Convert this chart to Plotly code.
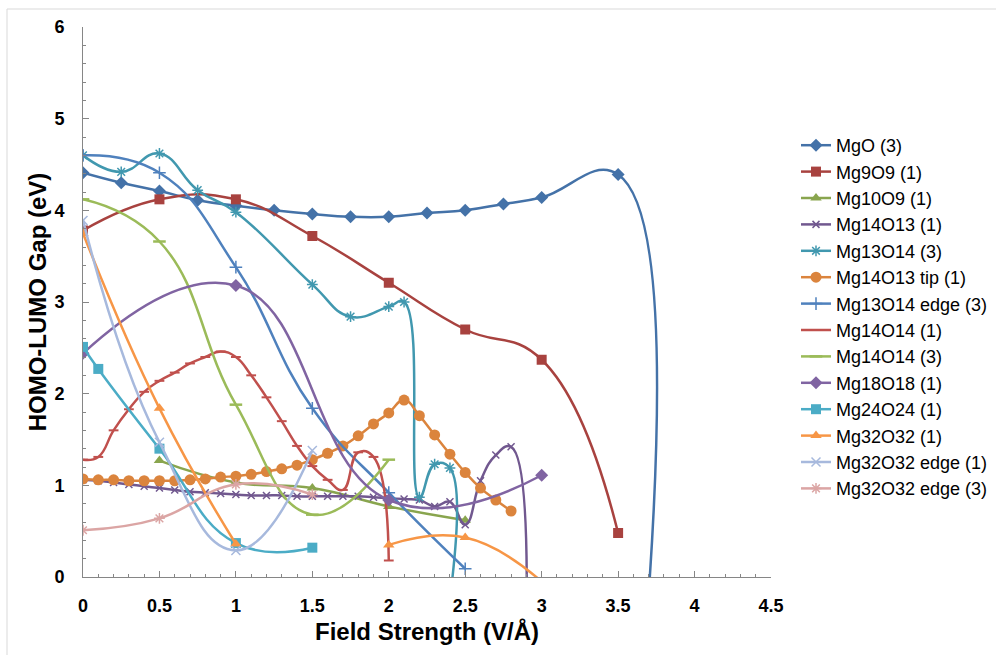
import plotly.graph_objects as go

# ---------------- data ----------------
mgo_x = [0, 0.25, 0.5, 0.75, 1.0, 1.25, 1.5, 1.75, 2.0, 2.25, 2.5, 2.75, 3.0, 3.5, 3.705]
mgo_y = [4.41, 4.30, 4.21, 4.11, 4.05, 4.00, 3.96, 3.93, 3.93, 3.97, 4.00, 4.07, 4.14, 4.39, -0.06]

mg9o9_x = [0, 0.5, 1.0, 1.5, 2.0, 2.5, 3.0, 3.5]
mg9o9_y = [3.78, 4.12, 4.12, 3.72, 3.21, 2.70, 2.37, 0.48]

mg10o9_x = [0.5, 1.0, 1.5, 2.0, 2.5]
mg10o9_y = [1.27, 1.03, 0.97, 0.77, 0.62]

mg14o13_x = [0, 0.1, 0.2, 0.3, 0.4, 0.5, 0.6, 0.7, 0.8, 0.9, 1.0, 1.1, 1.2, 1.3, 1.4,
             1.5, 1.6, 1.7, 1.8, 1.9, 2.0, 2.1, 2.2, 2.3, 2.4, 2.5, 2.6, 2.7, 2.8, 2.9]
mg14o13_y = [1.06, 1.05, 1.03, 1.01, 0.99, 0.97, 0.95, 0.93, 0.92, 0.91, 0.90, 0.89, 0.89, 0.89, 0.88,
             0.88, 0.88, 0.88, 0.88, 0.87, 0.86, 0.85, 0.84, 0.77, 0.82, 0.57, 1.05, 1.33, 1.42, -0.60]

mg13o14_x = [0, 0.25, 0.5, 0.75, 1.0, 1.5, 1.75, 2.0, 2.1, 2.2, 2.3, 2.4, 2.41]
mg13o14_y = [4.60, 4.42, 4.62, 4.22, 3.98, 3.19, 2.84, 2.95, 3.00, 0.87, 1.23, 1.19, -0.10]

tip_x = [0, 0.1, 0.2, 0.3, 0.4, 0.5, 0.6, 0.7, 0.8, 0.9, 1.0, 1.1, 1.2, 1.3, 1.4,
         1.5, 1.6, 1.7, 1.8, 1.9, 2.0, 2.1, 2.2, 2.3, 2.4, 2.5, 2.6, 2.7, 2.8]
tip_y = [1.07, 1.06, 1.06, 1.05, 1.05, 1.05, 1.05, 1.06, 1.07, 1.09, 1.10, 1.12, 1.15, 1.18, 1.22,
         1.28, 1.35, 1.43, 1.54, 1.67, 1.79, 1.93, 1.76, 1.55, 1.34, 1.14, 0.97, 0.84, 0.72]

edge13_x = [0, 0.5, 1.0, 1.5, 2.0, 2.5]
edge13_y = [4.60, 4.41, 3.38, 1.84, 0.92, 0.09]

mg14o14a_x = [0, 0.1, 0.2, 0.3, 0.4, 0.5, 0.6, 0.7, 0.8, 0.9, 1.0, 1.1, 1.2, 1.3, 1.4,
              1.5, 1.6, 1.7, 1.8, 1.9, 2.0]
mg14o14a_y = [1.28, 1.31, 1.60, 1.83, 2.02, 2.14, 2.23, 2.33, 2.40, 2.46, 2.40, 2.20, 1.96, 1.70, 1.43,
              1.21, 1.06, 0.95, 1.36, 1.31, 0.18]

mg14o14b_x = [0, 0.5, 1.0, 1.5, 2.0]
mg14o14b_y = [4.12, 3.66, 1.88, 0.68, 1.28]

mg18o18_x = [0, 1.0, 2.0, 3.0]
mg18o18_y = [2.44, 3.18, 0.84, 1.11]

mg24o24_x = [0, 0.1, 0.5, 1.0, 1.5]
mg24o24_y = [2.51, 2.27, 1.40, 0.37, 0.32]

mg32o32_x = [0, 0.5, 1.0, 1.5, 2.0, 2.5, 3.0]
mg32o32_y = [3.75, 1.84, 0.36, None, 0.35, 0.43, -0.05]

edge32a_x = [0, 0.5, 1.0, 1.5]
edge32a_y = [3.89, 1.47, 0.29, 1.38]

edge32b_x = [0, 0.5, 1.0, 1.5]
edge32b_y = [0.51, 0.64, 1.01, 0.90]

x_ticks = [0, 0.5, 1, 1.5, 2, 2.5, 3, 3.5, 4, 4.5]
y_ticks = [0, 1, 2, 3, 4, 5, 6]

# ---------------- series styling ----------------
series = [
    ("MgO (3)", mgo_x, mgo_y, "#4472A8", "diamond", 10, 0),
    ("Mg9O9 (1)", mg9o9_x, mg9o9_y, "#A8423F", "square", 10, 0),
    ("Mg10O9 (1)", mg10o9_x, mg10o9_y, "#89A54E", "triangle-up", 10, 0),
    ("Mg14O13 (1)", mg14o13_x, mg14o13_y, "#71588F", "x-thin-open", 7, 1.5),
    ("Mg13O14 (3)", mg13o14_x, mg13o14_y, "#4198AF", "asterisk-open", 9, 1.5),
    ("Mg14O13 tip (1)", tip_x, tip_y, "#DB843D", "circle", 11, 0),
    ("Mg13O14 edge (3)", edge13_x, edge13_y, "#4F81BD", "cross-thin-open", 9, 1.5),
    ("Mg14O14 (1)", mg14o14a_x, mg14o14a_y, "#C0504D", "line-ew-open", 7, 2),
    ("Mg14O14 (3)", mg14o14b_x, mg14o14b_y, "#9BBB59", "line-ew-open", 9, 2.5),
    ("Mg18O18 (1)", mg18o18_x, mg18o18_y, "#8064A2", "diamond", 10, 0),
    ("Mg24O24 (1)", mg24o24_x, mg24o24_y, "#4BACC6", "square", 10, 0),
    ("Mg32O32 (1)", mg32o32_x, mg32o32_y, "#F79646", "triangle-up", 10, 0),
    ("Mg32O32 edge (1)", edge32a_x, edge32a_y, "#A7B9DD", "x-thin-open", 9, 1.5),
    ("Mg32O32 edge (3)", edge32b_x, edge32b_y, "#DBA5A4", "asterisk-open", 9, 1.5),
]

fig = go.Figure()
for i, (name, xs, ys, color, sym, size, lw) in enumerate(series):
    marker = dict(symbol=sym, size=size, color=color)
    if lw:
        marker["line"] = dict(color=color, width=lw)
    fig.add_trace(go.Scatter(
        x=xs, y=ys, name=name, mode="lines+markers",
        line=dict(color=color, width=2.5, shape="spline", smoothing=1.3),
        marker=marker, connectgaps=False,
    ))

# plot-area geometry in pixels
L, R, T, B = 83, 771, 27, 577
W, H = 996, 655

def px_x(p):
    return (p - L) / (R - L)

def px_y(p):
    return (B - p) / (B - T)

axis_color = "#868686"
tick_font = dict(family="Liberation Sans, Arial, sans-serif", size=18, color="black", weight="bold")
title_font = dict(family="Liberation Sans, Arial, sans-serif", size=24, color="black", weight="bold")

fig.update_layout(
    width=W, height=H,
    margin=dict(l=L, r=W - R, t=T, b=H - B, pad=0, autoexpand=False),
    paper_bgcolor="white", plot_bgcolor="white",
    showlegend=True,
    legend=dict(
        x=px_x(796), y=px_y(127), xanchor="left", yanchor="top",
        font=dict(family="Liberation Sans, Arial, sans-serif", size=18, color="black"),
        bgcolor="rgba(0,0,0,0)", tracegroupgap=0, itemwidth=30,
    ),
    xaxis=dict(
        range=[0, 4.5], tickvals=x_ticks, ticktext=[str(v) for v in x_ticks],
        showgrid=False, zeroline=False, showline=True, linecolor=axis_color, linewidth=1,
        ticks="inside", ticklen=6, tickcolor=axis_color, tickwidth=1,
        minor=dict(ticks="inside", ticklen=3, dtick=0.1, tickcolor=axis_color, showgrid=False),
        tickfont=tick_font, ticklabelstandoff=12,
        title=dict(text="Field Strength (V/Å)", font=title_font, standoff=8),
        fixedrange=True, automargin=False,
    ),
    yaxis=dict(
        range=[0, 6], tickvals=y_ticks, ticktext=[str(v) for v in y_ticks],
        showgrid=False, zeroline=False, showline=True, linecolor=axis_color, linewidth=1,
        ticks="inside", ticklen=6, tickcolor=axis_color, tickwidth=1,
        minor=dict(ticks="inside", ticklen=3, dtick=0.2, tickcolor=axis_color, showgrid=False),
        tickfont=tick_font, ticklabelstandoff=14,
        title=dict(text="HOMO-LUMO Gap (eV)", font=title_font, standoff=0),
        fixedrange=True, automargin=False,
    ),
    shapes=[
        dict(type="line", xref="paper", yref="paper", x0=px_x(7), x1=px_x(1000), y0=px_y(9), y1=px_y(9),
             line=dict(color="#D9D9D9", width=1), layer="below"),
        dict(type="line", xref="paper", yref="paper", x0=px_x(7), x1=px_x(7), y0=px_y(9), y1=px_y(660),
             line=dict(color="#D9D9D9", width=1), layer="below"),
    ],
)

fig.write_html("out.html")
